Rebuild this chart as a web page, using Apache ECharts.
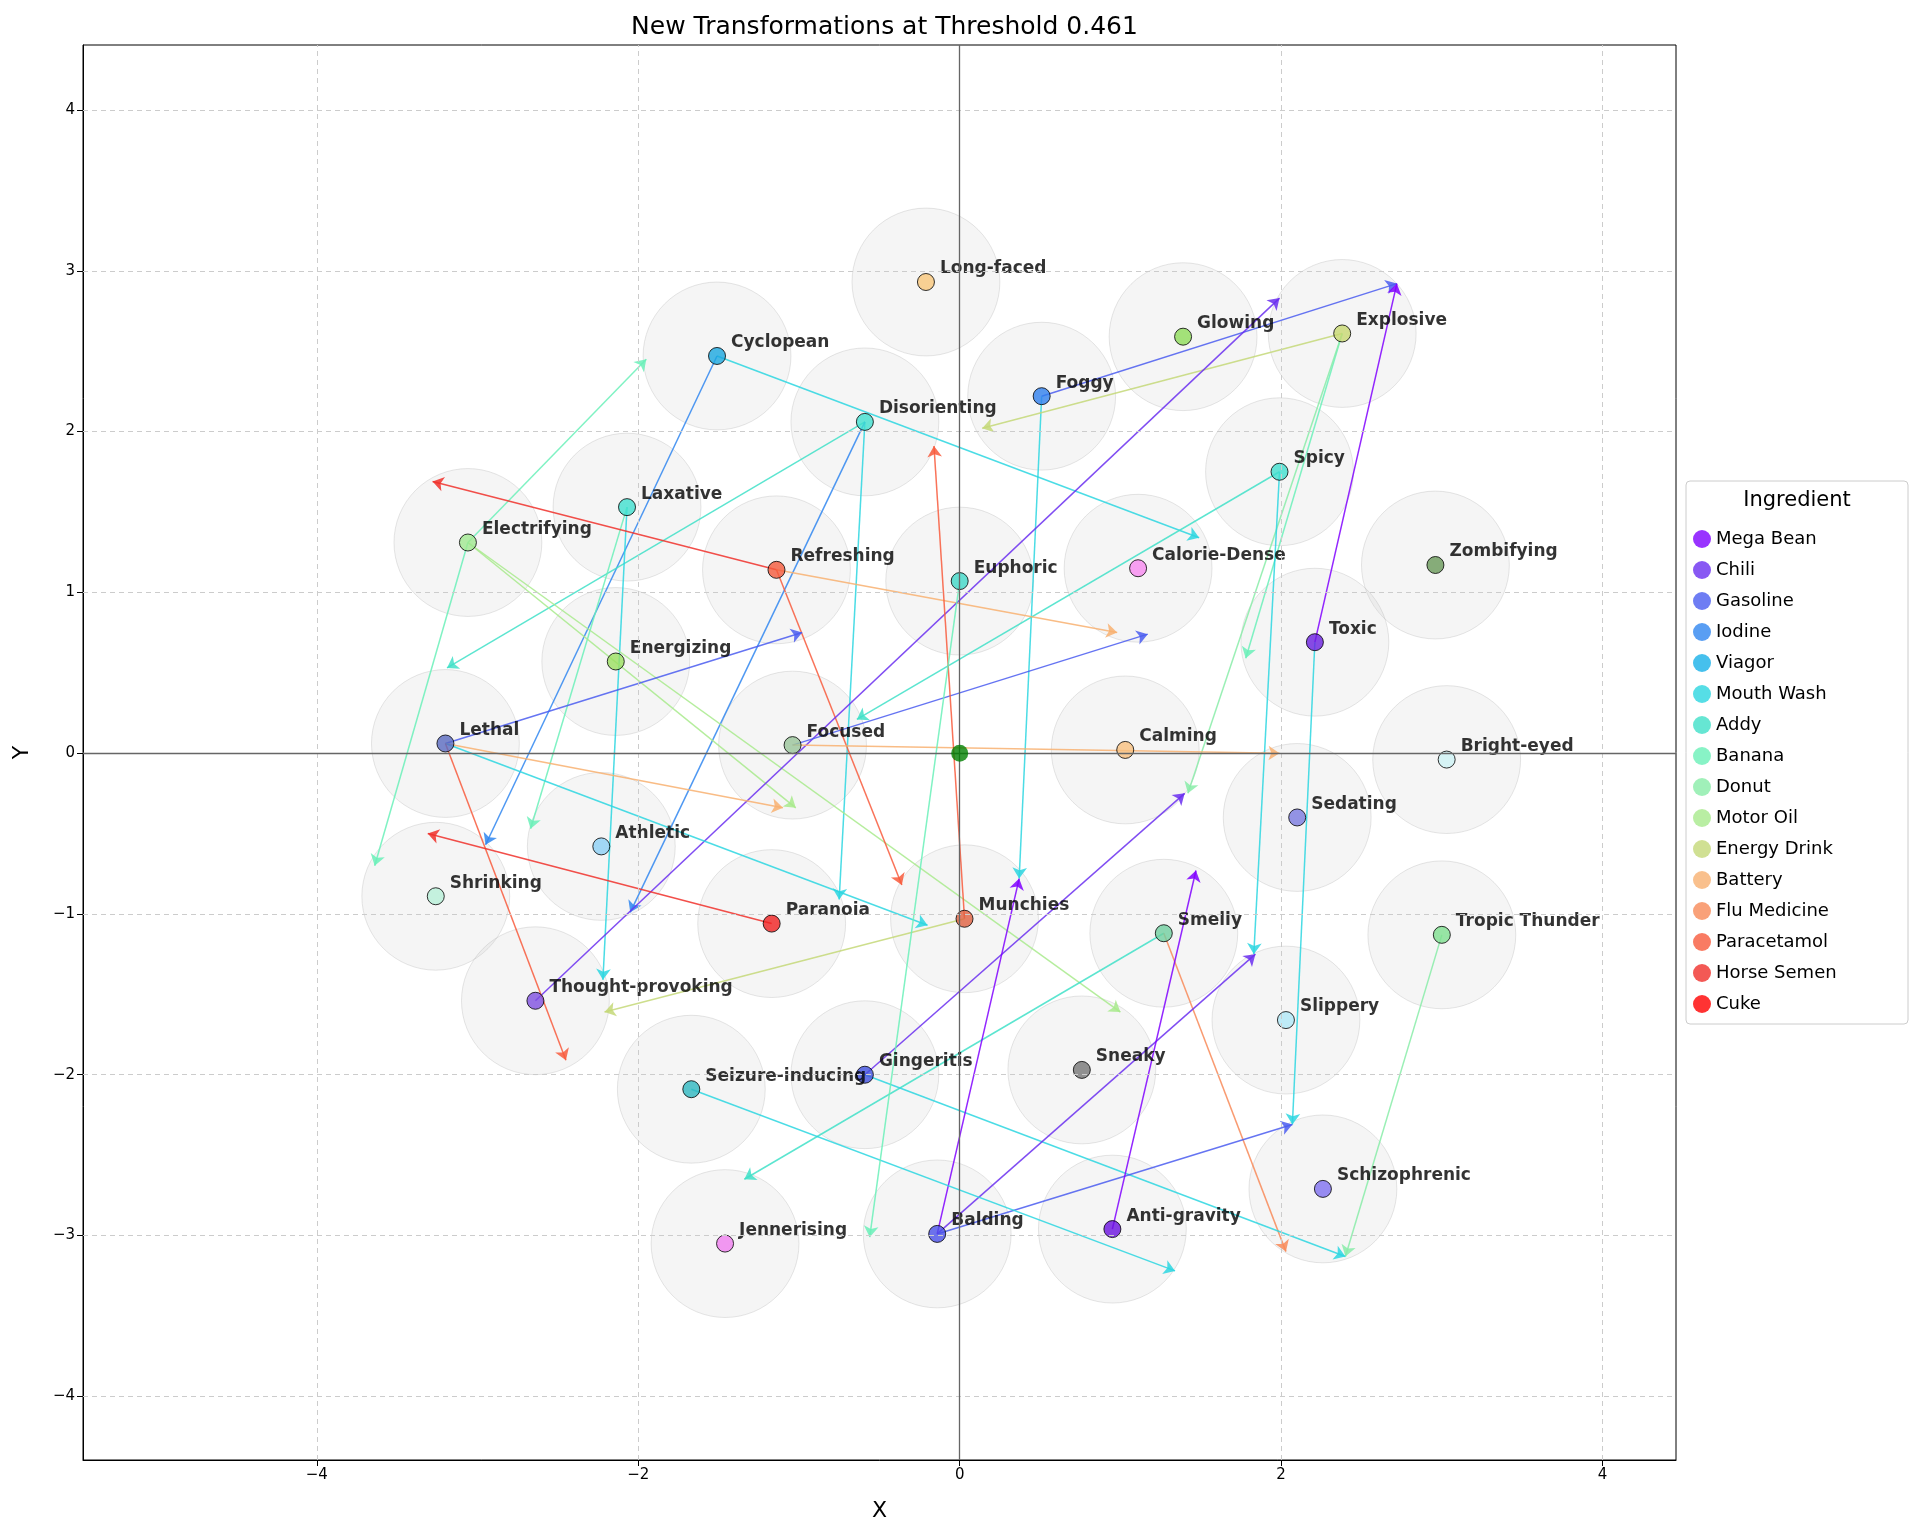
<!DOCTYPE html>
<html><head><meta charset="utf-8">
<script src="https://cdn.jsdelivr.net/npm/echarts@6/dist/echarts.min.js"></script>
<style>html,body{margin:0;padding:0;background:#fff}#c{width:1920px;height:1535px}</style>
</head><body><div id="c"></div>
<script>
const ingredients = ['Mega Bean','Chili','Gasoline','Iodine','Viagor','Mouth Wash','Addy','Banana','Donut','Motor Oil','Energy Drink','Battery','Flu Medicine','Paracetamol','Horse Semen','Cuke'];
const ingredientColors = ['#8000ff','#6a2ef0','#4a5cf0','#2f86f0','#18b0e8','#2cd6e0','#40e0c8','#6af0b8','#88eca8','#a8ea8c','#c4d878','#f8b070','#f88a58','#f85a3c','#f0302a','#ff0000'];

const effectNames = ['Long-faced','Cyclopean','Disorienting','Foggy','Glowing','Explosive','Spicy','Laxative','Electrifying','Refreshing','Euphoric','Calorie-Dense','Zombifying','Toxic','Energizing','Lethal','Focused','Calming','Bright-eyed','Sedating','Athletic','Shrinking','Munchies','Paranoia','Smelly','Tropic Thunder','Thought-provoking','Slippery','Sneaky','Gingeritis','Seizure-inducing','Schizophrenic','Anti-gravity','Balding','Jennerising'];
const effectX = [-0.21,-1.51,-0.59,0.51,1.39,2.38,1.99,-2.07,-3.06,-1.14,0.0,1.11,2.96,2.21,-2.14,-3.2,-1.04,1.03,3.03,2.10,-2.23,-3.26,0.03,-1.17,1.27,3.0,-2.64,2.03,0.76,-0.59,-1.67,2.26,0.95,-0.14,-1.46];
const effectY = [2.93,2.47,2.06,2.22,2.59,2.61,1.75,1.53,1.31,1.14,1.07,1.15,1.17,0.69,0.57,0.06,0.05,0.02,-0.04,-0.40,-0.58,-0.89,-1.03,-1.06,-1.12,-1.13,-1.54,-1.66,-1.97,-2.0,-2.09,-2.71,-2.96,-2.99,-3.05];
const effectColors = ['#f9c77a','#1aa7e0','#40e0d0','#2f80ed','#8fdc5a','#c8d870','#40e0d0','#40e0d0','#a0e890','#f55a3c','#40d8c8','#f78af0','#6a9a5a','#6a1fe0','#9be060','#5a6ac0','#9ac49a','#f9c080','#cef3f5','#7a7ae0','#8ccff5','#b8f0d8','#e06040','#f02020','#70d0a0','#80e090','#8050e0','#b0e8f8','#777777','#4050e0','#30b8c0','#8070f0','#6a10e0','#4a50e8','#f080f0'];

const arrowFrom = ['Cyclopean','Cyclopean','Disorienting','Disorienting','Disorienting','Foggy','Foggy','Explosive','Explosive','Explosive','Spicy','Spicy','Toxic','Toxic','Laxative','Laxative','Electrifying','Electrifying','Electrifying','Electrifying','Refreshing','Refreshing','Refreshing','Thought-provoking','Gingeritis','Lethal','Focused','Lethal','Lethal','Lethal','Focused','Munchies','Munchies','Paranoia','Smelly','Smelly','Tropic Thunder','Gingeritis','Balding','Balding','Balding','Anti-gravity','Seizure-inducing','Euphoric'];
const arrowToX = [1.49,-2.95,-3.19,-0.75,-2.05,2.72,0.37,0.14,1.78,1.42,-0.64,1.83,2.07,2.72,-2.22,-2.67,-1.95,-1.02,1.00,-3.64,-3.28,0.98,-0.36,1.99,1.40,-0.98,1.17,-1.10,-0.20,-2.45,1.99,-0.16,-2.21,-3.31,-1.34,2.03,2.40,2.40,2.07,1.84,0.37,1.47,1.34,-0.56];
const arrowToY = [1.34,-0.57,0.53,-0.91,-0.99,2.92,-0.78,2.02,0.59,-0.25,0.21,-1.25,-2.31,2.92,-1.41,-0.47,2.45,-0.34,-1.61,-0.70,1.69,0.75,-0.82,2.83,-0.25,0.75,0.74,-0.34,-1.07,-1.91,0.00,1.91,-1.61,-0.50,-2.65,-3.10,-3.13,-3.13,-2.31,-1.25,-0.78,-0.73,-3.22,-3.01];
const arrowIngredient = ['Mouth Wash','Iodine','Addy','Mouth Wash','Iodine','Gasoline','Mouth Wash','Energy Drink','Banana','Donut','Addy','Mouth Wash','Mouth Wash','Mega Bean','Mouth Wash','Banana','Banana','Motor Oil','Motor Oil','Banana','Horse Semen','Battery','Paracetamol','Chili','Chili','Gasoline','Gasoline','Battery','Mouth Wash','Paracetamol','Battery','Paracetamol','Energy Drink','Horse Semen','Addy','Flu Medicine','Donut','Mouth Wash','Gasoline','Chili','Mega Bean','Mega Bean','Mouth Wash','Banana'];
const xTicks = [-4,-2,0,2,4];
const yTicks = [-4,-3,-2,-1,0,1,2,3,4];

const pxPerUnit = 160.7;
const colorOf = n => ingredientColors[ingredients.indexOf(n)];
const pos = {}; effectNames.forEach((n,i)=>pos[n]=[effectX[i],effectY[i]]);

const gridLines = xTicks.map(v=>({xAxis:v})).concat(yTicks.map(v=>({yAxis:v})));
const series = [
 {type:'scatter',silent:true,symbolSize:2*0.46*pxPerUnit,z:1,
  itemStyle:{color:'rgba(200,200,200,0.22)',borderColor:'rgba(150,150,150,0.3)',borderWidth:1},
  data:effectNames.map((n,i)=>[effectX[i],effectY[i]]),
  markLine:{silent:true,symbol:'none',label:{show:false},lineStyle:{color:'#ccc',type:[5,4],width:1},data:gridLines}},
 {type:'lines',coordinateSystem:'cartesian2d',z:3,symbol:['none','arrow'],symbolSize:[0,11],
  data:arrowFrom.map((f,i)=>({coords:[pos[f],[arrowToX[i],arrowToY[i]]],lineStyle:{color:colorOf(arrowIngredient[i]),width:1.5,opacity:0.85}}))},
 {type:'scatter',z:4,symbolSize:17,
  data:effectNames.map((n,i)=>({value:[effectX[i],effectY[i]],name:n,itemStyle:{color:effectColors[i]}})),
  itemStyle:{borderColor:'#000',borderWidth:1},
  label:{show:true,position:'right',offset:[0,-13],formatter:p=>p.name,fontWeight:'bold',fontSize:17,color:'#000',fontFamily:'DejaVu Sans'},
  markLine:{silent:true,symbol:'none',label:{show:false},lineStyle:{color:'#666',type:'solid',width:1.3},data:[{xAxis:0},{yAxis:0}]}},
 {type:'scatter',z:5,symbolSize:17,itemStyle:{color:'#008000'},data:[[0,0]]}
];
ingredients.forEach((n,i)=>series.push({type:'scatter',name:n,data:[],itemStyle:{color:ingredientColors[i]}}));

const chart = echarts.init(document.getElementById('c'));
chart.setOption({
 animation:false,
 title:{text:'New Transformations at Threshold 0.461',left:(83+1676)/2,textAlign:'center',top:10,textStyle:{fontSize:25,fontWeight:'normal',fontFamily:'DejaVu Sans',color:'#000'}},
 grid:{left:83,right:244,top:45,bottom:75,show:true,borderColor:'#000',borderWidth:1,backgroundColor:'transparent'},
 xAxis:{type:'value',min:-5.455,max:4.457,name:'X',nameLocation:'middle',nameGap:40,nameTextStyle:{fontSize:22,fontFamily:'DejaVu Sans',color:'#000'},
   axisLine:{onZero:false,lineStyle:{color:'#000'}},splitLine:{show:false},
   axisTick:{customValues:xTicks,length:6,lineStyle:{color:'#000'}},
   axisLabel:{customValues:xTicks,fontSize:15,color:'#000',fontFamily:'DejaVu Sans',formatter:v=>String(v).replace('-','−')}},
 yAxis:{type:'value',min:-4.396,max:4.404,name:'Y',nameLocation:'middle',nameGap:50,nameTextStyle:{fontSize:22,fontFamily:'DejaVu Sans',color:'#000'},
   axisLine:{show:true,onZero:false,lineStyle:{color:'#000'}},splitLine:{show:false},
   axisTick:{show:true,customValues:yTicks,length:6,lineStyle:{color:'#000'}},
   axisLabel:{customValues:yTicks,fontSize:15,color:'#000',fontFamily:'DejaVu Sans',formatter:v=>String(v).replace('-','−')}},
 legend:{data:ingredients,orient:'vertical',left:1688,top:525,itemGap:13,icon:'circle',itemWidth:18,itemHeight:18,
   textStyle:{fontSize:18,fontFamily:'DejaVu Sans',color:'#000'}},
 graphic:[{type:'rect',shape:{x:1686,y:481,width:222,height:543,r:4},style:{fill:'#fff',stroke:'#ccc',lineWidth:1},z:-1},
   {type:'text',x:1797,y:490,style:{text:'Ingredient',fontSize:21,fontFamily:'DejaVu Sans',textAlign:'center',fill:'#000'}}],
 series
});
</script></body></html>
